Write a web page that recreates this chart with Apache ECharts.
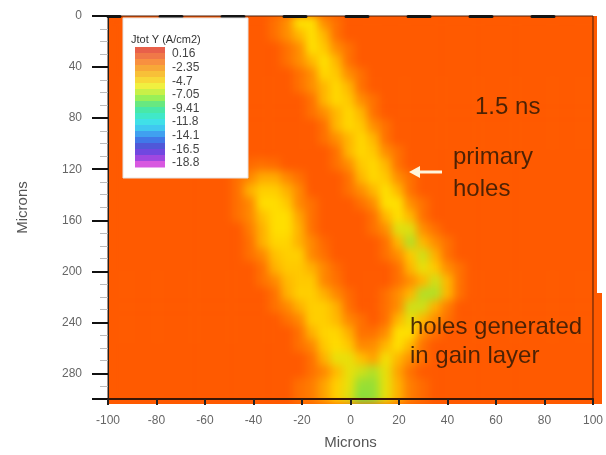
<!DOCTYPE html>
<html><head><meta charset="utf-8">
<script src="https://cdn.jsdelivr.net/npm/echarts/dist/echarts.min.js"></script>
<style>
html,body{margin:0;padding:0;background:#fff;}
#wrap{position:relative;width:606px;height:455px;overflow:hidden;background:#fff;}
#heatClip{position:absolute;left:108px;top:16px;width:494px;height:388px;overflow:hidden;background:#FF5A00;}
#heat{position:absolute;left:-108px;top:-16px;width:606px;height:455px;filter:blur(4px);}
#main{position:absolute;left:0;top:0;width:606px;height:455px;}
</style></head>
<body><div id="wrap"><div id="heatClip"><div id="heat"></div></div><div id="main"></div></div>
<script>
// Cell centres (microns)
const xCenters = [-97.5,-92.5,-87.5,-82.5,-77.5,-72.5,-67.5,-62.5,-57.5,-52.5,-47.5,-42.5,-37.5,-32.5,-27.5,-22.5,-17.5,-12.5,-7.5,-2.5,
                  2.5,7.5,12.5,17.5,22.5,27.5,32.5,37.5,42.5,47.5,52.5,57.5,62.5,67.5,72.5,77.5,82.5,87.5,92.5,97.5];
const yCenters = [5,15,25,35,45,55,65,75,85,95,105,115,125,135,145,155,165,175,185,195,205,215,225,235,245,255,265,275,285,295];
// Jtot Y (A/cm2), one row per y centre
const row00 = [0,0,0,0,0,0,0,0,0,0, 0,0,0,-0.8,-1.8,-4.6,-4.6,-1.8,-0.8,0, 0,0,0,0,0,0,0,0,0,0, 0,0,0,0,0,0,0,0,0,0];
const row01 = [0,0,0,0,0,0,0,0,0,0, 0,0,0,-0.8,-1.8,-3.2,-4.6,-3.2,-0.8,0, 0,0,0,0,0,0,0,0,0,0, 0,0,0,0,0,0,0,0,0,0];
const row02 = [0,0,0,0,0,0,0,0,0,0, 0,0,0,0,-0.8,-1.8,-4.6,-3.8,-1.8,-0.8, 0,0,0,0,0,0,0,0,0,0, 0,0,0,0,0,0,0,0,0,0];
const row03 = [0,0,0,0,0,0,0,0,0,0, 0,0,0,0,-0.8,-1.8,-3.2,-4.6,-3.2,-0.8, 0,0,0,0,0,0,0,0,0,0, 0,0,0,0,0,0,0,0,0,0];
const row04 = [0,0,0,0,0,0,0,0,0,0, 0,0,0,0,0,-0.8,-1.8,-4.3,-3.8,-1.8, -0.8,0,0,0,0,0,0,0,0,0, 0,0,0,0,0,0,0,0,0,0];
const row05 = [0,0,0,0,0,0,0,0,0,0, 0,0,0,0,0,-0.8,-1.8,-3.2,-4.3,-3.2, -0.8,0,0,0,0,0,0,0,0,0, 0,0,0,0,0,0,0,0,0,0];
const row06 = [0,0,0,0,0,0,0,0,0,0, 0,0,0,0,0,0,-0.8,-3.2,-4.3,-3.8, -1.8,-0.8,0,0,0,0,0,0,0,0, 0,0,0,0,0,0,0,0,0,0];
const row07 = [0,0,0,0,0,0,0,0,0,0, 0,0,0,0,0,0,-0.8,-1.8,-3.2,-4.3, -3.2,-0.8,0,0,0,0,0,0,0,0, 0,0,0,0,0,0,0,0,0,0];
const row08 = [0,0,0,0,0,0,0,0,0,0, 0,0,0,0,0,0,0,-0.8,-3.2,-4.3, -3.8,-1.8,-0.8,0,0,0,0,0,0,0, 0,0,0,0,0,0,0,0,0,0];
const row09 = [0,0,0,0,0,0,0,0,0,0, 0,0,0,0,0,0,0,-0.8,-1.8,-3.2, -4.3,-3.2,-0.8,0,0,0,0,0,0,0, 0,0,0,0,0,0,0,0,0,0];
const row10 = [0,0,0,0,0,0,0,0,0,0, 0,0,0,0,0,0,0,0,-0.8,-3.2, -4.3,-3.8,-1.8,-0.8,0,0,0,0,0,0, 0,0,0,0,0,0,0,0,0,0];
const row11 = [0,0,0,0,0,0,0,0,0,0, 0,-0.6,-0.8,-0.6,0,0,0,0,-0.8,-1.8, -3.8,-4.3,-3.2,-0.8,0,0,0,0,0,0, 0,0,0,0,0,0,0,0,0,0];
const row12 = [0,0,0,0,0,0,0,0,0,0, -0.8,-1.6,-2.8,-2.8,-1.6,-0.8,0,0,0,-0.8, -3.2,-4.3,-3.8,-1.8,-0.8,0,0,0,0,0, 0,0,0,0,0,0,0,0,0,0];
const row13 = [0,0,0,0,0,0,0,0,0,0, -0.8,-3.0,-4.0,-4.0,-3.0,-1.6,0,0,0,-0.8, -1.8,-3.2,-4.6,-3.2,-0.8,0,0,0,0,0, 0,0,0,0,0,0,0,0,0,0];
const row14 = [0,0,0,0,0,0,0,0,0,0, -0.8,-1.6,-4.5,-4.5,-3.8,-1.6,-0.8,0,0,0, -0.8,-1.8,-4.6,-4.6,-1.8,-0.8,0,0,0,0, 0,0,0,0,0,0,0,0,0,0];
const row15 = [0,0,0,0,0,0,0,0,0,0, -0.8,-1.6,-3.5,-4.5,-4.5,-2.5,-0.8,0,0,0, 0,-0.8,-3.2,-4.6,-3.2,-0.8,0,0,0,0, 0,0,0,0,0,0,0,0,0,0];
const row16 = [0,0,0,0,0,0,0,0,0,0, 0,-1.2,-3.0,-4.5,-4.5,-3.0,-0.8,0,0,0, 0,-0.8,-1.8,-5.2,-5.2,-1.8,-0.8,0,0,0, 0,0,0,0,0,0,0,0,0,0];
const row17 = [0,0,0,0,0,0,0,0,0,0, 0,-0.8,-3.0,-4.2,-4.2,-3.0,-1.6,-0.5,0,0, 0,0,-0.8,-3.2,-6.0,-3.2,-1.8,-0.8,0,0, 0,0,0,0,0,0,0,0,0,0];
const row18 = [0,0,0,0,0,0,0,0,0,0, 0,-0.8,-1.6,-3.5,-4.0,-4.0,-1.6,-0.8,0,0, 0,0,-0.8,-1.8,-3.8,-5.5,-3.0,-0.8,0,0, 0,0,0,0,0,0,0,0,0,0];
const row19 = [0,0,0,0,0,0,0,0,0,0, 0,0,-0.8,-3.0,-3.8,-3.8,-3.0,-1.6,-0.6,0, 0,0,0,-0.8,-3.2,-5.0,-3.8,-1.8,-0.8,0, 0,0,0,0,0,0,0,0,0,0];
const row20 = [0,0,0,0,0,0,0,0,0,0, 0,0,-0.8,-1.6,-3.3,-3.8,-3.8,-1.6,-0.8,0, 0,0,0,-0.8,-1.8,-3.2,-5.5,-3.2,-0.8,0, 0,0,0,0,0,0,0,0,0,0];
const row21 = [0,0,0,0,0,0,0,0,0,0, 0,0,0,-0.8,-3.0,-4.0,-4.0,-3.0,-1.6,-0.6, 0,0,-0.8,-1.8,-3.2,-6.0,-6.0,-3.2,-0.8,0, 0,0,0,0,0,0,0,0,0,0];
const row22 = [0,0,0,0,0,0,0,0,0,0, 0,0,0,-0.8,-1.6,-3.0,-4.0,-4.0,-3.0,-0.8, 0,0,-0.8,-1.8,-5.5,-5.5,-3.0,-1.2,0,0, 0,0,0,0,0,0,0,0,0,0];
const row23 = [0,0,0,0,0,0,0,0,0,0, 0,0,0,0,-0.8,-1.6,-4.0,-4.0,-3.3,-1.6, -0.8,0,-0.8,-3.2,-5.0,-3.2,-1.8,-0.8,0,0, 0,0,0,0,0,0,0,0,0,0];
const row24 = [0,0,0,0,0,0,0,0,0,0, 0,0,0,0,0,-0.8,-3.0,-4.2,-4.2,-3.0, -0.8,-0.8,-1.8,-4.6,-4.6,-1.8,-0.8,0,0,0, 0,0,0,0,0,0,0,0,0,0];
const row25 = [0,0,0,0,0,0,0,0,0,0, 0,0,0,0,0,-0.8,-1.6,-3.8,-4.5,-3.8, -1.6,-1.8,-3.2,-4.6,-3.2,-0.8,0,0,0,0, 0,0,0,0,0,0,0,0,0,0];
const row26 = [0,0,0,0,0,0,0,0,0,0, 0,0,0,0,0,0,-0.8,-3.0,-5.0,-5.0, -3.5,-2.5,-4.8,-3.2,-1.8,-0.8,0,0,0,0, 0,0,0,0,0,0,0,0,0,0];
const row27 = [0,0,0,0,0,0,0,0,0,0, 0,0,0,0,0,0,-0.8,-1.6,-3.3,-5.0, -5.5,-6.0,-5.0,-2.5,-0.8,0,0,0,0,0, 0,0,0,0,0,0,0,0,0,0];
const row28 = [0,0,0,0,0,0,0,0,0,0, 0,0,0,0,0,-0.8,-1.2,-2.5,-4.0,-5.0, -6.5,-6.5,-5.0,-3.0,-1.2,-0.6,0,0,0,0, 0,0,0,0,0,0,0,0,0,0];
const row29 = [0,0,0,0,0,0,0,0,0,0, 0,0,0,0,0,-0.8,-1.2,-2.5,-4.0,-5.2, -6.8,-6.6,-5.0,-3.0,-1.2,-0.6,0,0,0,0, 0,0,0,0,0,0,0,0,0,0];
const jtotRows = [row00,row01,row02,row03,row04,row05,row06,row07,row08,row09,row10,row11,row12,row13,row14,
                  row15,row16,row17,row18,row19,row20,row21,row22,row23,row24,row25,row26,row27,row28,row29];
// Legend
const legendTitle = 'Jtot Y (A/cm2)';
const legendLabels = ['0.16','-2.35','-4.7','-7.05','-9.41','-11.8','-14.1','-16.5','-18.8'];
const valueMin = -18.8, valueMax = 0.16;
const fieldColors = ['#E040F0','#7040E0','#3070F0','#30C8F0','#30E0A0','#80E040','#FFE000','#FF9A00','#FF5500'];
const legendBandColors = ['#E8604A','#F07848','#F89040','#F8A838','#F8C038','#F8D838','#F0F040','#C8F048','#98F058','#68E880',
                          '#48E8A8','#40E8C8','#40E0E8','#40C8F0','#40A0F0','#4078E8','#5058D8','#7048E0','#A048E0','#D858E0'];
const xTicks = {min:-100, max:100, interval:20};
const yTicks = {min:0, max:300, interval:40};

const heatData = [];
jtotRows.forEach((row, j) => row.forEach((v, i) => heatData.push([i, j, v])));

const GRID = {left:108, top:16, width:494, height:388};
const FONT = '"Liberation Sans", Arial, sans-serif';

const heat = echarts.init(document.getElementById('heat'), null, {renderer:'canvas'});
heat.setOption({
  animation:false,
  grid: Object.assign({}, GRID),
  xAxis: {type:'category', data:xCenters, show:false},
  yAxis: {type:'category', data:yCenters, inverse:true, show:false},
  visualMap: {show:false, type:'continuous', min:valueMin, max:valueMax, dimension:2, inRange:{color:fieldColors}},
  series: [{type:'heatmap', data:heatData, itemStyle:{borderWidth:0}, emphasis:{disabled:true}, progressive:0}]
});

const main = echarts.init(document.getElementById('main'), null, {renderer:'canvas'});
const graphics = [];
// artifact: white strip at top right of the plot
graphics.push({type:'rect', z:100, shape:{x:597, y:0, width:9, height:293}, style:{fill:'#fff'}});
// legend box
graphics.push({type:'rect', z:100, shape:{x:123, y:18, width:125, height:160}, style:{fill:'#fff', stroke:'#e4e4e4', lineWidth:1}});
graphics.push({type:'text', z:101, x:131, y:40, style:{text:legendTitle, fill:'#333', fontSize:11, fontFamily:FONT, verticalAlign:'middle'}});
const bandH = 120 / legendBandColors.length;
legendBandColors.forEach((c, k) => {
  graphics.push({type:'rect', z:101, shape:{x:135, y:47 + k*bandH, width:30, height:bandH + 0.5}, style:{fill:c}});
});
legendLabels.forEach((t, k) => {
  graphics.push({type:'text', z:101, x:172, y:54 + k*13.6, style:{text:t, fill:'#444', fontSize:12, fontFamily:FONT, verticalAlign:'middle'}});
});
// annotations
const annColor = '#3a1c04';
const ann = [['1.5 ns',475,107],['primary',453,157],['holes',453,189],['holes generated',410,327],['in gain layer',410,356]];
ann.forEach(a => graphics.push({type:'text', z:102, x:a[1], y:a[2], style:{text:a[0], fill:annColor, fontSize:24, fontFamily:FONT, verticalAlign:'middle', opacity:0.9}}));
graphics.push({type:'line', z:102, shape:{x1:418, y1:172, x2:442, y2:172}, style:{stroke:'#fff6dc', lineWidth:3}});
graphics.push({type:'polygon', z:102, shape:{points:[[409,172],[420,166],[420,178]]}, style:{fill:'#fff6dc'}});

const axisLabelStyle = {color:'#666', fontSize:12, fontFamily:FONT};
main.setOption({
  animation:false,
  grid: Object.assign({show:true, borderColor:'#4a1e0a', borderWidth:1, backgroundColor:'transparent'}, GRID),
  xAxis: [
    {type:'value', min:xTicks.min, max:xTicks.max, interval:xTicks.interval, position:'bottom',
     axisLine:{show:true, onZero:false, lineStyle:{color:'#3a1606', width:2}},
     axisTick:{show:true, length:6, lineStyle:{color:'#222', width:2}},
     axisLabel:Object.assign({margin:16}, axisLabelStyle), splitLine:{show:false},
     name:'Microns', nameLocation:'middle', nameGap:36, nameTextStyle:{color:'#555', fontSize:15, fontFamily:FONT}},
    {type:'value', min:xTicks.min, max:xTicks.max, position:'top',
     axisLine:{show:true, onZero:false, lineStyle:{color:'#141414', width:3, type:[22,40], dashOffset:10}},
     axisTick:{show:false}, axisLabel:{show:false}, splitLine:{show:false}}
  ],
  yAxis: [
    {type:'value', min:yTicks.min, max:yTicks.max, interval:yTicks.interval, inverse:true,
     axisLine:{show:true, onZero:false, lineStyle:{color:'#222', width:1}},
     axisTick:{show:true, length:16, lineStyle:{color:'#111', width:2}},
     minorTick:{show:true, splitNumber:4, length:8, lineStyle:{color:'#bbb', width:1}},
     axisLabel:Object.assign({margin:26, showMaxLabel:false}, axisLabelStyle), splitLine:{show:false},
     name:'Microns', nameLocation:'middle', nameGap:78, nameTextStyle:{color:'#555', fontSize:15, fontFamily:FONT}}
  ],
  graphic: graphics
});
</script>
</body></html>
